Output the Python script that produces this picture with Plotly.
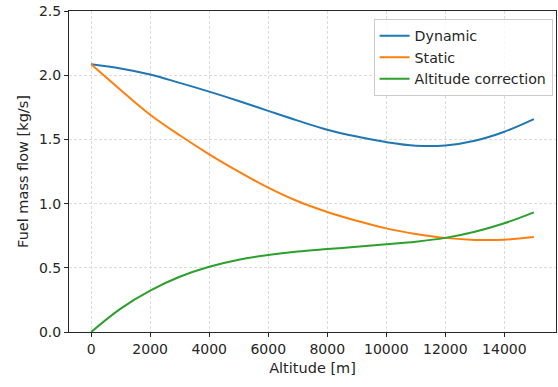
import plotly.graph_objects as go

altitude = [0, 1000, 2000, 3000, 4000, 5000, 6000, 7000, 8000, 9000, 10000, 11000, 12000, 13000, 14000, 15000]
dynamic = [2.085, 2.053, 2.006, 1.940, 1.872, 1.799, 1.722, 1.646, 1.575, 1.522, 1.479, 1.451, 1.453, 1.490, 1.560, 1.658]
static = [2.085, 1.885, 1.692, 1.532, 1.384, 1.249, 1.124, 1.018, 0.935, 0.866, 0.807, 0.764, 0.733, 0.717, 0.719, 0.740]
alt_corr = [0.0, 0.182, 0.322, 0.430, 0.508, 0.563, 0.600, 0.627, 0.646, 0.664, 0.683, 0.703, 0.733, 0.781, 0.847, 0.932]
x_ticks = [0, 2000, 4000, 6000, 8000, 10000, 12000, 14000]
y_ticks = [0.0, 0.5, 1.0, 1.5, 2.0, 2.5]

series = [("Dynamic", dynamic, "#1f77b4"), ("Static", static, "#ff7f0e"), ("Altitude correction", alt_corr, "#2ca02c")]

fig = go.Figure()
for name, ys, col in series:
    fig.add_trace(go.Scatter(x=altitude, y=ys, name=name, mode="lines",
                             line=dict(color=col, width=2, shape="spline", smoothing=1.0)))

font = dict(family="DejaVu Sans", size=14, color="#262626")
title_font = dict(family="DejaVu Sans", size=14.5, color="#262626")
axis_common = dict(showline=True, linecolor="#262626", linewidth=1, mirror=True,
                   ticks="outside", ticklen=4, tickcolor="#262626",
                   showgrid=True, gridcolor="#dcdcdc", griddash="3px,2px", gridwidth=0.8,
                   zeroline=False, tickfont=font)

fig.update_layout(
    width=558, height=387,
    margin=dict(l=69, r=2, t=11, b=55),
    paper_bgcolor="white", plot_bgcolor="white",
    font=font,
    showlegend=True,
    legend=dict(x=0.993, y=0.975, xanchor="right", yanchor="top",
                bgcolor="rgba(255,255,255,0.8)", bordercolor="#cccccc", borderwidth=1,
                font=dict(family="DejaVu Sans", size=14.2, color="#262626"),
                tracegroupgap=0, itemwidth=30),
    xaxis=dict(range=[-750, 15750], tickvals=x_ticks, ticktext=[str(v) for v in x_ticks],
               title=dict(text="Altitude [m]", font=title_font, standoff=7), **axis_common),
    yaxis=dict(range=[0, 2.5], tickvals=y_ticks, ticktext=["%.1f" % v for v in y_ticks],
               title=dict(text="Fuel mass flow [kg/s]", font=title_font, standoff=6), **axis_common),
)

fig.write_html("out.html")
